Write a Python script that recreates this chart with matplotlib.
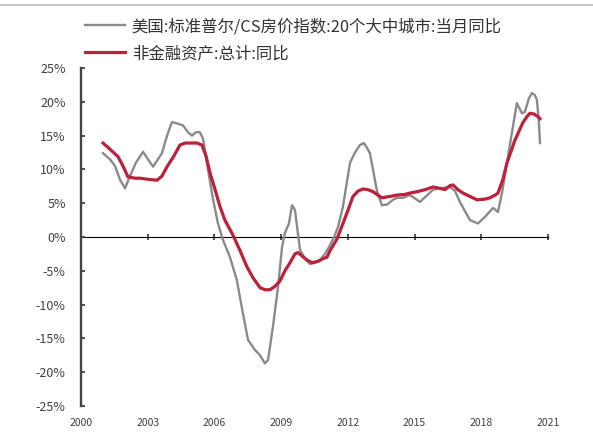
import matplotlib
matplotlib.use("Agg")
import matplotlib.pyplot as plt
from matplotlib.lines import Line2D

plt.rcParams['font.family'] = ['Noto Sans CJK SC', 'DejaVu Sans']

# Case-Shiller 20-city YoY (%), decimal year
cs_years = [2000.99, 2001.30, 2001.53, 2001.75, 2001.98, 2002.20, 2002.47, 2002.79, 2003.01,
            2003.24, 2003.46, 2003.64, 2003.87, 2004.09, 2004.32, 2004.59, 2004.81, 2004.99,
            2005.17, 2005.35, 2005.49, 2005.71, 2005.94, 2006.16, 2006.38, 2006.70, 2007.01,
            2007.28, 2007.51, 2007.82, 2008.05, 2008.27, 2008.41, 2008.63, 2008.86, 2009.04,
            2009.17, 2009.35, 2009.49, 2009.62, 2009.85, 2010.07, 2010.30, 2010.52, 2010.75,
            2010.97, 2011.20, 2011.38, 2011.56, 2011.78, 2011.92, 2012.10, 2012.32, 2012.54,
            2012.72, 2012.86, 2012.99, 2013.13, 2013.31, 2013.53, 2013.76, 2014.03, 2014.21,
            2014.48, 2014.79, 2015.02, 2015.24, 2015.51, 2015.83, 2016.14, 2016.59, 2016.82,
            2017.04, 2017.27, 2017.49, 2017.85, 2018.17, 2018.53, 2018.75, 2018.93, 2019.15,
            2019.38, 2019.60, 2019.83, 2019.96, 2020.14, 2020.28, 2020.41, 2020.50, 2020.59,
            2020.64]
cs_values = [12.4, 11.5, 10.5, 8.5, 7.2, 9.0, 11.0, 12.6, 11.5,
             10.4, 11.5, 12.4, 15.0, 17.0, 16.8, 16.5, 15.5, 15.0,
             15.5, 15.5, 14.5, 10.0, 5.5, 2.0, -0.4, -3.0, -6.4,
             -11.3, -15.2, -16.7, -17.5, -18.7, -18.2, -13.3, -7.4, -1.5,
             0.6, 2.0, 4.7, 4.0, -1.9, -3.2, -4.0, -3.8, -3.4,
             -2.5, -1.2, 0.0, 1.5, 4.5, 7.4, 11.0, 12.5, 13.6,
             13.9, 13.2, 12.4, 10.0, 6.8, 4.7, 4.8, 5.5, 5.8,
             5.8, 6.2, 5.7, 5.2, 6.0, 7.0, 7.2, 7.4, 6.8,
             5.2, 3.8, 2.5, 2.0, 3.0, 4.3, 3.7, 6.5, 10.9,
             15.5, 19.8, 18.3, 18.5, 20.5, 21.3, 21.0, 20.3, 17.0,
             13.9]

# Non-financial assets total YoY (%)
nfa_years = [2000.99, 2001.30, 2001.66, 2001.89, 2002.11, 2002.43, 2002.65, 2003.10, 2003.42,
             2003.64, 2003.87, 2004.18, 2004.45, 2004.68, 2004.90, 2005.22, 2005.44, 2005.62,
             2005.80, 2006.03, 2006.25, 2006.47, 2006.83, 2007.15, 2007.46, 2007.73, 2008.05,
             2008.27, 2008.50, 2008.72, 2008.95, 2009.17, 2009.40, 2009.62, 2009.76, 2009.94,
             2010.16, 2010.39, 2010.66, 2010.88, 2011.06, 2011.20, 2011.51, 2011.78, 2012.01,
             2012.23, 2012.46, 2012.68, 2012.90, 2013.13, 2013.35, 2013.53, 2013.89, 2014.21,
             2014.57, 2014.79, 2015.11, 2015.47, 2015.83, 2016.14, 2016.37, 2016.59, 2016.73,
             2016.95, 2017.18, 2017.49, 2017.81, 2018.17, 2018.39, 2018.62, 2018.75, 2018.97,
             2019.15, 2019.33, 2019.51, 2019.69, 2019.87, 2020.05, 2020.19, 2020.37, 2020.55,
             2020.64]
nfa_values = [13.9, 13.0, 11.9, 10.5, 8.9, 8.7, 8.7, 8.5, 8.4,
              9.0, 10.4, 12.0, 13.6, 13.9, 13.9, 13.9, 13.6, 12.0,
              9.5, 7.0, 4.5, 2.5, 0.3, -2.0, -4.4, -6.0, -7.5,
              -7.8, -7.8, -7.3, -6.5, -5.0, -3.8, -2.5, -2.3, -2.8,
              -3.4, -3.8, -3.6, -3.2, -3.0, -2.0, -0.3, 2.0, 4.0,
              6.0, 6.8, 7.1, 7.0, 6.7, 6.2, 5.8, 6.0, 6.2,
              6.3, 6.5, 6.7, 7.0, 7.4, 7.2, 7.0, 7.6, 7.7,
              7.0, 6.5, 6.0, 5.5, 5.6, 5.8, 6.2, 6.5, 8.5,
              10.9, 12.6, 14.3, 15.6, 16.9, 17.8, 18.3, 18.2, 17.8,
              17.5]

x_ticks = [2000, 2003, 2006, 2009, 2012, 2015, 2018, 2021]
y_ticks = [-25, -20, -15, -10, -5, 0, 5, 10, 15, 20, 25]

label_cs = '美国:标准普尔/CS房价指数:20个大中城市:当月同比'
label_nfa = '非金融资产:总计:同比'

fig = plt.figure(figsize=(5.93, 4.34), dpi=100)
ax = fig.add_axes([81/593, 1 - 406/434, (548 - 81)/593, (406 - 68)/434])

l1, = ax.plot(cs_years, cs_values, color='#8a8a8a', lw=1.7, label=label_cs)
l2, = ax.plot(nfa_years, nfa_values, color='#be1f3a', lw=2.3, label=label_nfa)

ax.set_xlim(2000, 2021)
ax.set_ylim(-25, 25)
ax.set_yticks(y_ticks)
ax.set_yticklabels([f'{v}%' for v in y_ticks])
ax.set_xticks(x_ticks)
ax.set_xticklabels([str(v) for v in x_ticks])

for s in ['top', 'right', 'bottom']:
    ax.spines[s].set_visible(False)
ax.spines['left'].set_color('#454545')
ax.spines['left'].set_linewidth(1.7)
ax.tick_params(axis='y', direction='in', length=3, width=1.3, color='#454545',
               labelsize=9, labelcolor='#404040', pad=11)
ax.tick_params(axis='x', length=0, labelsize=7.5, labelcolor='#404040', pad=9)

sec = ax.secondary_xaxis(0.5)
sec.set_xticks(x_ticks)
sec.tick_params(axis='x', direction='inout', length=4, width=1.3, color='#454545',
                labelbottom=False, labeltop=False)
sec.spines['bottom'].set_color('#454545')
sec.spines['bottom'].set_linewidth(1.7)

fig.legend(handles=[l1, l2], loc='upper left', bbox_to_anchor=(85/593, 1 - 18/434),
           frameon=False, fontsize=11.8, handlelength=2.45, handletextpad=0.4,
           labelspacing=0.62, borderpad=0, borderaxespad=0, labelcolor='#333333')

fig.add_artist(Line2D([0, 1], [1 - 5/434, 1 - 5/434], transform=fig.transFigure,
                      color='#bbbbbb', lw=1.2))

fig.savefig('out.png', dpi=100)
